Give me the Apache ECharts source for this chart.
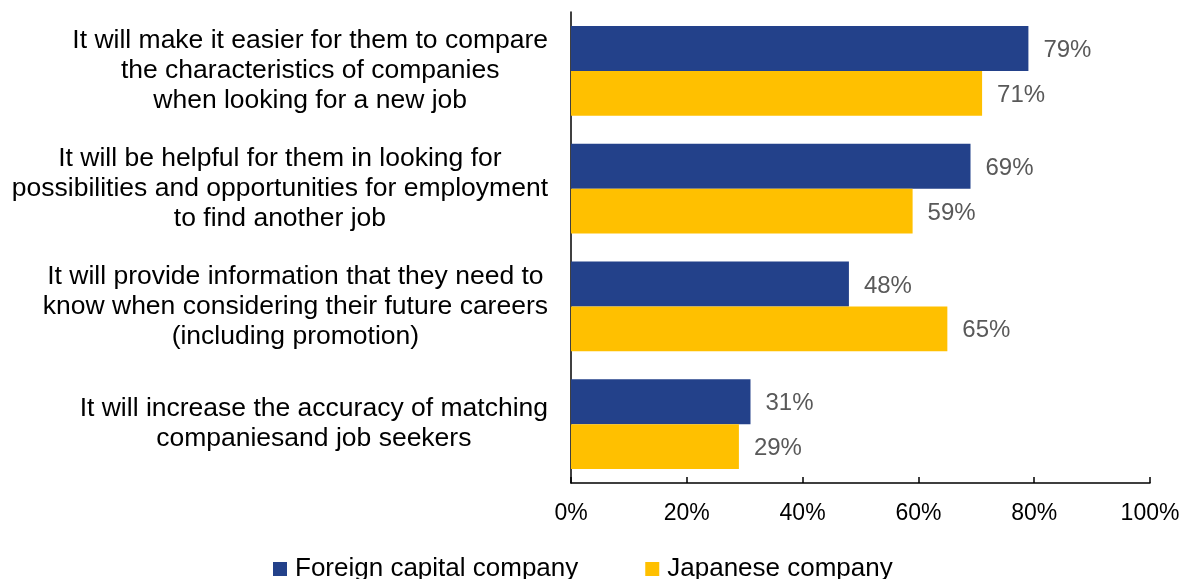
<!DOCTYPE html>
<html>
<head>
<meta charset="utf-8">
<script src="https://cdn.jsdelivr.net/npm/echarts@6/dist/echarts.min.js"></script>
<style>
  html, body { margin: 0; padding: 0; background: #fff; }
  #chart { width: 1192px; height: 579px; }
</style>
</head>
<body>
<div id="chart"></div>
<script>
// Survey reasons, top to bottom, each split into display lines
const categories = [
  ['It will make it easier for them to compare', 'the characteristics of companies', 'when looking for a new job'],
  ['It will be helpful for them in looking for', 'possibilities and opportunities for employment', 'to find another job'],
  ['It will provide information that they need to', 'know when considering their future careers', '(including promotion)'],
  ['It will increase the accuracy of matching', 'companiesand job seekers']
];
const foreignCapital = [79, 69, 48, 31];
const japanese = [71, 59, 65, 29];
const seriesNames = ['Foreign capital company', 'Japanese company'];
const xTicks = [0, 20, 40, 60, 80, 100];

const FONT = 'Liberation Sans, Arial, sans-serif';
const chart = echarts.init(document.getElementById('chart'));

const catKeys = categories.map(lines => lines.join('\n'));

const labelStyle = {
  show: true,
  position: 'right',
  distance: 15,
  offset: [0, 2],
  formatter: p => p.value + '%',
  fontFamily: FONT,
  fontSize: 24,
  color: '#595959'
};

chart.setOption({
  animation: false,
  textStyle: { fontFamily: FONT },
  grid: { left: 571, right: 42, top: 12, bottom: 96, containLabel: false },
  legend: {
    top: 551,
    left: 268,
    itemWidth: 14,
    itemHeight: 14,
    itemGap: 67,
    icon: 'rect',
    textStyle: { fontFamily: FONT, fontSize: 26, color: '#000', padding: [0, 0, 0, 3] },
    data: seriesNames
  },
  xAxis: {
    type: 'value',
    min: 0,
    max: 100,
    interval: 20,
    axisLine: { show: true, lineStyle: { color: '#000', width: 1.5 } },
    axisTick: { show: true, inside: true, length: 6, lineStyle: { color: '#000', width: 1.5 } },
    splitLine: { show: false },
    axisLabel: {
      margin: 19,
      fontFamily: FONT,
      fontSize: 23,
      color: '#000',
      formatter: v => xTicks.includes(v) ? v + '%' : ''
    }
  },
  yAxis: {
    type: 'category',
    inverse: true,
    data: catKeys,
    axisLine: { show: true, lineStyle: { color: '#000', width: 1.5 } },
    axisTick: { show: false },
    axisLabel: {
      margin: 23,
      align: 'right',
      fontFamily: FONT,
      fontSize: 26.5,
      color: '#000',
      lineHeight: 30,
      formatter: v => v.split('\n').map(l => '{c|' + l + '}').join('\n'),
      rich: {
        c: { align: 'center', fontFamily: FONT, fontSize: 26.5, color: '#000', lineHeight: 30 }
      }
    }
  },
  series: [
    {
      name: seriesNames[0],
      type: 'bar',
      data: foreignCapital,
      barGap: '0%',
      barCategoryGap: '23.6%',
      itemStyle: { color: '#23418A' },
      label: labelStyle
    },
    {
      name: seriesNames[1],
      type: 'bar',
      data: japanese,
      barGap: '0%',
      barCategoryGap: '23.6%',
      itemStyle: { color: '#FFC000' },
      label: labelStyle
    }
  ]
});
</script>
</body>
</html>
